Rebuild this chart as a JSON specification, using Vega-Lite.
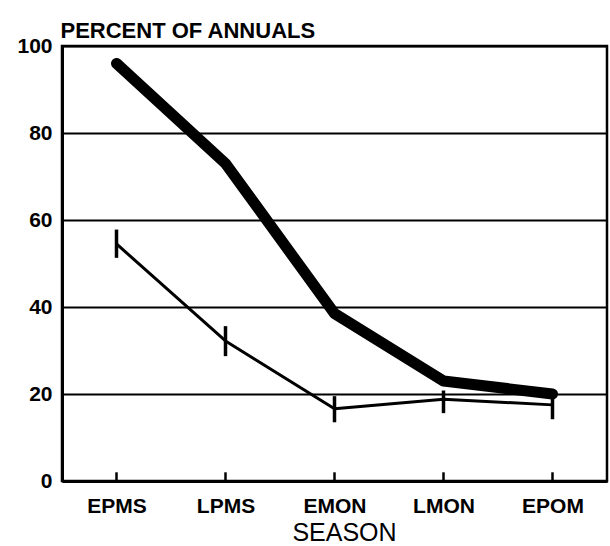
{
  "$schema": "https://vega.github.io/schema/vega-lite/v6.json",
  "width": 545,
  "height": 435,
  "autosize": "none",
  "padding": {"left": 62, "top": 46, "right": 3, "bottom": 65},
  "background": "white",
  "config": {
    "view": {"stroke": "black", "strokeWidth": 2.5},
    "font": "Liberation Sans"
  },
  "data": {
    "values": [
      {"season": "EPMS", "series": "thick", "value": 96},
      {"season": "LPMS", "series": "thick", "value": 73},
      {"season": "EMON", "series": "thick", "value": 38.5},
      {"season": "LMON", "series": "thick", "value": 23},
      {"season": "EPOM", "series": "thick", "value": 20},
      {"season": "EPMS", "series": "thin", "value": 54.5, "lo": 51.3, "hi": 57.8},
      {"season": "LPMS", "series": "thin", "value": 32.2, "lo": 28.7, "hi": 35.6},
      {"season": "EMON", "series": "thin", "value": 16.6, "lo": 13.5, "hi": 19.5},
      {"season": "LMON", "series": "thin", "value": 18.8, "lo": 15.6, "hi": 20.8},
      {"season": "EPOM", "series": "thin", "value": 17.5, "lo": 14.2, "hi": 19.5}
    ]
  },
  "encoding": {
    "x": {
      "field": "season",
      "type": "ordinal",
      "sort": ["EPMS", "LPMS", "EMON", "LMON", "EPOM"],
      "scale": {"type": "point", "padding": 0.5},
      "axis": {
        "title": "SEASON",
        "titleFont": "Liberation Sans",
        "titleFontSize": 25,
        "titleFontWeight": "normal",
        "titleColor": "black",
        "titlePadding": 4,
        "titleX": 282,
        "labelAngle": 0,
        "labelFont": "Liberation Sans",
        "labelFontSize": 21,
        "labelFontWeight": "bold",
        "labelColor": "black",
        "labelPadding": 14,
        "domainColor": "black",
        "domainWidth": 3,
        "ticks": false,
        "grid": false
      }
    }
  },
  "layer": [
    {
      "mark": {"type": "line", "color": "black", "strokeCap": "round", "strokeJoin": "round"},
      "encoding": {
        "y": {
          "field": "value",
          "type": "quantitative",
          "scale": {"domain": [0, 100], "nice": false},
          "axis": {
            "values": [0, 20, 40, 60, 80, 100],
            "title": "PERCENT OF ANNUALS",
            "titleAngle": 0,
            "titleAlign": "left",
            "titleBaseline": "alphabetic",
            "titleX": -2,
            "titleY": -9,
            "titleFont": "Liberation Sans",
            "titleFontSize": 22,
            "titleFontWeight": "bold",
            "titleColor": "black",
            "labelFont": "Liberation Sans",
            "labelFontSize": 21,
            "labelFontWeight": "bold",
            "labelColor": "black",
            "labelPadding": 10,
            "ticks": false,
            "domainColor": "black",
            "domainWidth": 3,
            "grid": true,
            "gridColor": "black",
            "gridWidth": 2,
            "gridOpacity": 1
          }
        },
        "detail": {"field": "series"},
        "strokeWidth": {
          "field": "series",
          "type": "nominal",
          "scale": {"domain": ["thick", "thin"], "range": [11, 3]},
          "legend": null
        }
      }
    },
    {
      "transform": [{"filter": "isValid(datum.lo)"}],
      "mark": {"type": "rule", "color": "black", "strokeWidth": 3.5},
      "encoding": {
        "y": {"field": "lo", "type": "quantitative"},
        "y2": {"field": "hi"}
      }
    },
    {
      "transform": [{"filter": "datum.series === 'thin'"}],
      "mark": {"type": "rule", "color": "black", "strokeWidth": 2.5},
      "encoding": {
        "y": {"datum": 0},
        "y2": {"datum": 2}
      }
    }
  ]
}
